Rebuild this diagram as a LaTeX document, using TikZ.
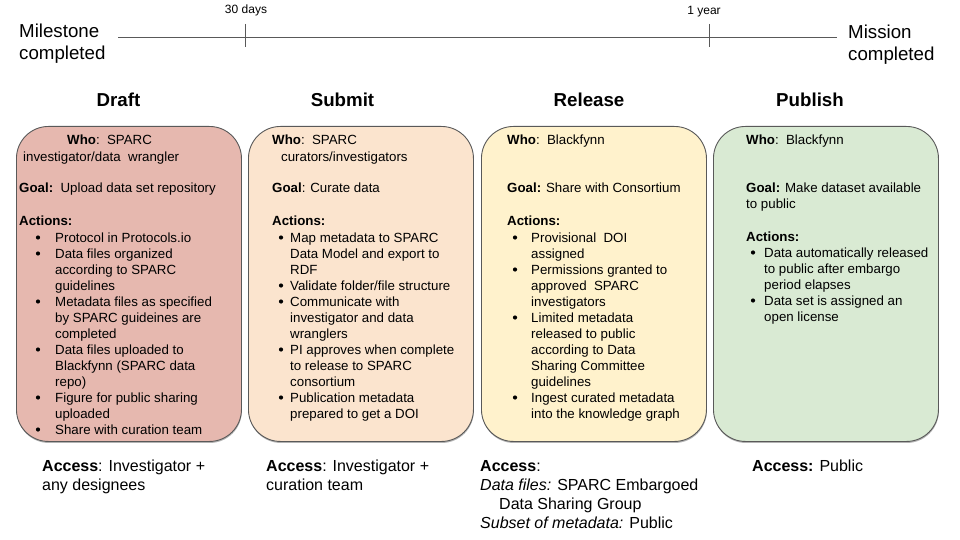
\documentclass[tikz,border=0pt]{standalone}
\usepackage{fontspec}
\setmainfont{Liberation Sans}
\usetikzlibrary{shadows}
\definecolor{draftc}{RGB}{230,184,175}
\definecolor{submitc}{RGB}{251,228,206}
\definecolor{releasec}{RGB}{255,242,204}
\definecolor{publishc}{RGB}{217,234,211}
\definecolor{edgec}{RGB}{89,89,89}
\newcommand{\vlines}[1]{\vtop{\let\\\cr\halign{##\hfil\cr#1\crcr}}}
\begin{document}
\begin{tikzpicture}[x=1pt,y=-1pt,
 box/.style={draw=edgec, line width=0.9pt, rounded corners=32pt, anchor=north west, minimum width=225pt, minimum height=315pt, inner sep=0pt,
   drop shadow={shadow xshift=0.4pt, shadow yshift=-1.5pt, fill=black, opacity=0.3}},
 body/.style={anchor=base west, inner sep=0pt, font=\fontsize{13.3}{16}\selectfont},
 acc/.style={anchor=base west, inner sep=0pt, font=\fontsize{16}{19}\selectfont},
 head/.style={anchor=base, inner sep=0pt, font=\fontsize{18.7}{22}\selectfont\bfseries},
 side/.style={anchor=base west, inner sep=0pt, font=\fontsize{18.7}{22}\selectfont},
 ticklab/.style={anchor=base, inner sep=0pt, font=\fontsize{12}{14}\selectfont},
 bul/.style={circle, fill=black, inner sep=0pt, minimum size=4.2pt},
 tl/.style={draw=edgec, line width=0.8pt}
]
\useasboundingbox (0,0) rectangle (960,540);

% timeline
\coordinate (tla) at (118,37);
\coordinate (tlb) at (837,37);
\coordinate (t30) at (245,37);
\coordinate (t1y) at (709,37);
\draw[tl] (tla) -- (tlb);
\draw[tl] ([yshift=13pt]t30) -- ([yshift=-10pt]t30);
\draw[tl] ([yshift=13pt]t1y) -- ([yshift=-10pt]t1y);
\node[ticklab] (l30) at (246,14) {30 days};
\node[ticklab] (l1y) at (704,15) {1 year};
\node[side] (ms) at (19,38) {\vlines{Milestone\\completed}};
\node[side] (mc) at (848,39) {\vlines{Mission\\completed}};

% headings
\node[head] (hd) at (118.5,107) {Draft};
\node[head] (hs) at (342.5,107) {Submit};
\node[head] (hr) at (589,107) {Release};
\node[head] (hp) at (810,107) {Publish};

% boxes
\node[box, fill=draftc] (draft) at (16,126) {};
\node[box, fill=submitc] (submit) at (248,126) {};
\node[box, fill=releasec] (release) at (481,126) {};
\node[box, fill=publishc] (publish) at (713,126) {};

% Draft
\node[body] (dwho) at (67,145) {\textbf{Who}:\ \ SPARC};
\node[body] (dwho2) at (23,161) {investigator/data\ \ wrangler};
\node[body] (dgoal) at (19,193) {\textbf{Goal:}\ \ Upload data set repository};
\node[body] (dact) at (19,225) {\textbf{Actions:}};
\foreach \yy/\itm [count=\i] in {242/{Protocol in Protocols.io},
  258/{Data files organized\\according to SPARC\\guidelines},
  306/{Metadata files as specified\\by SPARC guideines are\\completed},
  354/{Data files uploaded to\\Blackfynn (SPARC data\\repo)},
  402/{Figure for public sharing\\uploaded},
  434/{Share with curation team}} {
  \node[bul] (db\i) at (38,\yy-4.5) {};
  \node[body] (di\i) at (55,\yy) {\vlines{\itm}};
}
\node[acc] (dacc) at (42,471) {\vlines{\textbf{Access}: Investigator +\\any designees}};

% Submit
\node[body] (swho) at (272,145) {\textbf{Who}:\ \ SPARC};
\node[body] (swho2) at (281,161) {curators/investigators};
\node[body] (sgoal) at (272,193) {\textbf{Goal}: Curate data};
\node[body] (sact) at (272,225) {\textbf{Actions:}};
\foreach \yy/\itm [count=\i] in {242/{Map metadata to SPARC\\Data Model and export to\\RDF},
  290/{Validate folder/file structure},
  306/{Communicate with\\investigator and data\\wranglers},
  354/{PI approves when complete\\to release to SPARC\\consortium},
  402/{Publication metadata\\prepared to get a DOI}} {
  \node[bul] (sb\i) at (281,\yy-4.5) {};
  \node[body] (si\i) at (290,\yy) {\vlines{\itm}};
}
\node[acc] (sacc) at (266,471) {\vlines{\textbf{Access}: Investigator +\\curation team}};

% Release
\node[body] (rwho) at (507,145) {\textbf{Who}:\ \ Blackfynn};
\node[body] (rgoal) at (507,193) {\textbf{Goal:} Share with Consortium};
\node[body] (ract) at (507,225) {\textbf{Actions:}};
\foreach \yy/\itm [count=\i] in {242/{Provisional\ \ DOI\\assigned},
  274/{Permissions granted to\\approved\ \ SPARC\\investigators},
  322/{Limited metadata\\released to public\\according to Data\\Sharing Committee\\guidelines},
  402/{Ingest curated metadata\\into the knowledge graph}} {
  \node[bul] (rb\i) at (515,\yy-4.5) {};
  \node[body] (ri\i) at (531,\yy) {\vlines{\itm}};
}
\node[acc] (racc) at (480,471) {\textbf{Access}:};
\node[acc] (racc2) at (480,490) {\textit{Data files:} SPARC Embargoed};
\node[acc] (racc3) at (499,509) {Data Sharing Group};
\node[acc] (racc4) at (480,528) {\textit{Subset of metadata:} Public};

% Publish
\node[body] (pwho) at (746,145) {\textbf{Who}:\ \ Blackfynn};
\node[body] (pgoal) at (746,193) {\vlines{\textbf{Goal:} Make dataset available\\to public}};
\node[body] (pact) at (746,241) {\textbf{Actions:}};
\foreach \yy/\itm [count=\i] in {257/{Data automatically released\\to public after embargo\\period elapses},
  305/{Data set is assigned an\\open license}} {
  \node[bul] (pb\i) at (753,\yy-4.5) {};
  \node[body] (pi\i) at (764,\yy) {\vlines{\itm}};
}
\node[acc] (pacc) at (752,471) {\textbf{Access:} Public};
\end{tikzpicture}
\end{document}
